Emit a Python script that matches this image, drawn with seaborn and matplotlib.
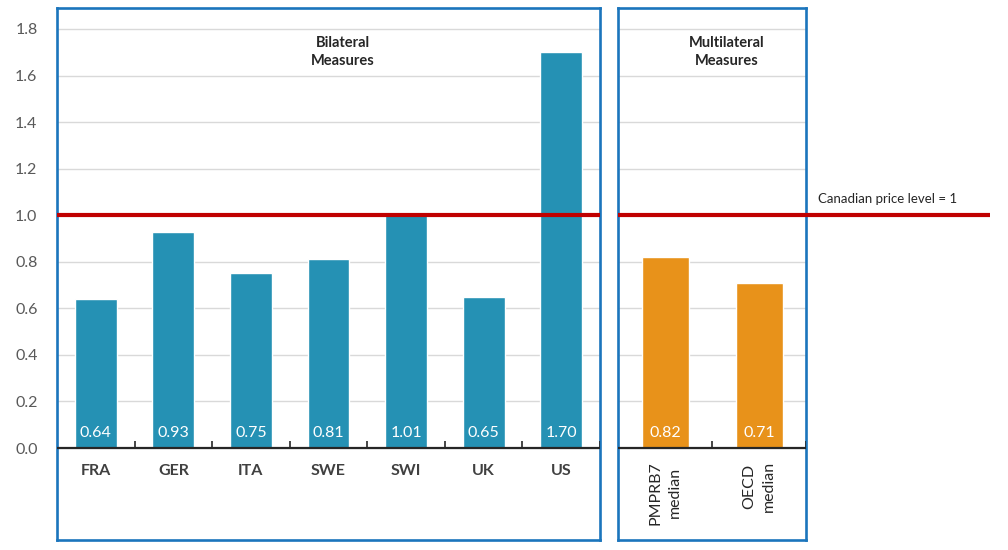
import matplotlib
matplotlib.use('Agg')
import matplotlib.pyplot as plt
import numpy as np
import pandas as pd
import seaborn as sns

countries = ['FRA', 'GER', 'ITA', 'SWE', 'SWI', 'UK', 'US']
country_values = [0.64, 0.93, 0.75, 0.81, 1.01, 0.65, 1.70]
measures = ['PMPRB7\nmedian', 'OECD\nmedian']
measure_values = [0.82, 0.71]
yticks = [0.0, 0.2, 0.4, 0.6, 0.8, 1.0, 1.2, 1.4, 1.6, 1.8]
canada_level = 1.0

TEAL = '#2591B4'
ORANGE = '#E8921A'
BOX = '#1B75BC'
RED = '#C00000'
GRID = '#D9D9D9'
TEXT = '#404040'

sns.set_theme(style='white')
plt.rcParams['font.family'] = ['Lato', 'DejaVu Sans']

fig = plt.figure(figsize=(10.08, 5.5), dpi=100)
W, H = 1008, 550
ax1 = fig.add_axes([57 / W, 10 / H, 543 / W, 532 / H])
ax2 = fig.add_axes([618 / W, 10 / H, 188 / W, 532 / H])

bil = pd.DataFrame({'country': countries, 'value': country_values})
mul = pd.DataFrame({'measure': measures, 'value': measure_values})

sns.barplot(data=bil, x='country', y='value', ax=ax1, color=TEAL,
            saturation=1, width=0.54, zorder=3)
sns.barplot(data=mul, x='measure', y='value', ax=ax2, color=ORANGE,
            saturation=1, width=0.5, zorder=3)

for ax, n in [(ax1, len(countries)), (ax2, len(measures))]:
    ax.set_xlim(-0.5, n - 0.5)
    ax.set_ylim(-0.395, 1.89)
    ax.set_yticks(yticks)
    ax.set_xticks([])
    ax.set_xlabel('')
    ax.set_ylabel('')
    ax.grid(axis='y', color=GRID, linewidth=1, zorder=0)
    ax.tick_params(axis='y', length=0)
    for sp in ax.spines.values():
        sp.set_visible(True)
        sp.set_color(BOX)
        sp.set_linewidth(1.9)
    # x axis line at zero plus small ticks between categories
    ax.plot([-0.5, n - 0.5], [0, 0], color='#262626', lw=1.6, zorder=4)
    ax.vlines(np.arange(0.5, n, 1), 0, 0.03, color='#262626', lw=1.2, zorder=4)

ax1.set_yticklabels([f'{t:.1f}' for t in yticks], fontsize=11.5, color='#595959')
ax1.tick_params(axis='y', pad=14)
ax2.set_yticklabels([])

for i, v in enumerate(country_values):
    ax1.text(i, 0.065, f'{v:.2f}', ha='center', va='center', color='white',
             fontsize=11.5, zorder=5)
    ax1.text(i, -0.1, countries[i], ha='center', va='center', color=TEXT,
             fontsize=11.5, fontweight='bold')
for i, v in enumerate(measure_values):
    ax2.text(i, 0.065, f'{v:.2f}', ha='center', va='center', color='white',
             fontsize=11.5, zorder=5)
    ax2.text(i, -0.055, measures[i], ha='center', va='top', rotation=90,
             multialignment='center', color='#262626', fontsize=11.5,
             linespacing=1.45)

ax1.text(3.19, 1.70, 'Bilateral\nMeasures', ha='center', va='center',
         fontsize=10.5, fontweight='bold', color='#262626', linespacing=1.35)
ax2.text(0.66, 1.70, 'Multilateral\nMeasures', ha='center', va='center',
         fontsize=10.5, fontweight='bold', color='#262626', linespacing=1.35)

ax1.plot([-0.5, len(countries) - 0.5], [canada_level, canada_level],
         color=RED, lw=3, zorder=6, solid_capstyle='butt')
ax2.plot([-0.5, 3.46], [canada_level, canada_level], color=RED, lw=3,
         zorder=6, clip_on=False, solid_capstyle='butt')
ax2.text(1.63, 1.07, 'Canadian price level = 1', ha='left', va='center',
         fontsize=9.5, color='#262626')

fig.savefig('out.png', dpi=100)
